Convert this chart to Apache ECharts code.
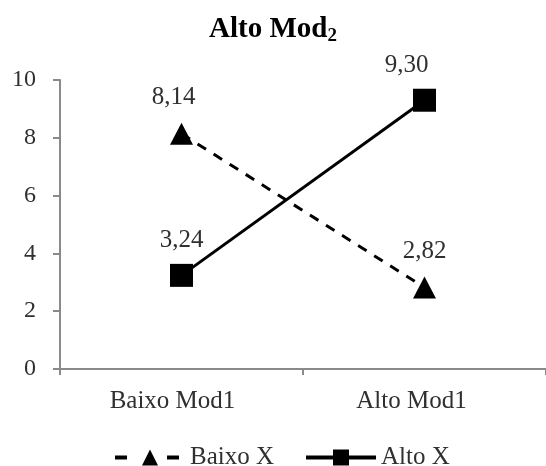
<!DOCTYPE html>
<html>
<head>
<meta charset="utf-8">
<script src="https://cdn.jsdelivr.net/npm/echarts@6/dist/echarts.min.js"></script>
<style>
  html, body { margin: 0; padding: 0; background: #fff; }
  #chart { width: 546px; height: 466px; }
</style>
</head>
<body>
<div id="chart"></div>
<script>
// Interaction plot: moderator 2 at its high level
const categories = ['Baixo Mod1', 'Alto Mod1'];
const seriesNames = ['Baixo X', 'Alto X'];
const baixoX = [8.14, 2.82];
const altoX = [3.24, 9.30];
const yTicks = [0, 2, 4, 6, 8, 10];

const FONT = '"Liberation Serif", "Times New Roman", serif';
const TXT = '#303030';

const fmt = v => v.toFixed(2).replace('.', ',');

// horizontal nudges for the value labels, per point
const labelNudge = {
  'Baixo X': [-8, 0],
  'Alto X': [0, -18]
};

function buildData(name, values) {
  return values.map((v, i) => ({
    value: v,
    label: { offset: [labelNudge[name][i], 0] }
  }));
}

const chart = echarts.init(document.getElementById('chart'), null, { renderer: 'canvas' });

chart.setOption({
  backgroundColor: '#ffffff',
  animation: false,
  title: {
    text: '{a|Alto Mod}{b|2}',
    left: 'center',
    top: 8,
    textStyle: {
      rich: {
        a: { fontFamily: FONT, fontWeight: 'bold', fontSize: 29, color: '#000', lineHeight: 34 },
        b: { fontFamily: FONT, fontWeight: 'bold', fontSize: 19, color: '#000', lineHeight: 34, padding: [12, 0, 0, 0] }
      }
    }
  },
  grid: { left: 60, right: -10, top: 80, bottom: 97, containLabel: false },
  xAxis: {
    type: 'category',
    data: categories,
    boundaryGap: true,
    axisLine: { show: true, lineStyle: { color: '#8a8a8a', width: 2 } },
    axisTick: { show: true, length: 6, lineStyle: { color: '#8a8a8a', width: 2 } },
    axisLabel: {
      margin: 20,
      formatter: (v, i) => '{c' + i + '|' + v + '}',
      rich: {
        c0: { fontFamily: FONT, fontSize: 25, color: TXT, padding: [0, 18, 0, 0] },
        c1: { fontFamily: FONT, fontSize: 25, color: TXT, padding: [0, 26, 0, 0] }
      }
    },
    splitLine: { show: false }
  },
  yAxis: {
    type: 'value',
    min: yTicks[0],
    max: yTicks[yTicks.length - 1],
    interval: yTicks[1] - yTicks[0],
    axisLine: { show: true, lineStyle: { color: '#8a8a8a', width: 2 } },
    axisTick: { show: true, length: 7, lineStyle: { color: '#8a8a8a', width: 2 } },
    axisLabel: { margin: 24, fontFamily: FONT, fontSize: 24, color: TXT },
    splitLine: { show: false }
  },
  legend: {
    top: 440,
    left: 108,
    itemWidth: 70,
    itemHeight: 20,
    itemGap: 30,
    textStyle: { fontFamily: FONT, fontSize: 25, color: TXT },
    data: [
      { name: seriesNames[0], lineStyle: { width: 4, type: [12, 40] } },
      { name: seriesNames[1], lineStyle: { width: 4 } }
    ]
  },
  series: [
    {
      name: seriesNames[0],
      type: 'line',
      data: buildData(seriesNames[0], baixoX),
      symbol: 'triangle',
      symbolSize: [23, 22],
      itemStyle: { color: '#000' },
      lineStyle: { color: '#000', width: 3, type: [10, 9] },
      label: {
        show: true, position: 'top', distance: 13,
        formatter: p => fmt(p.value),
        fontFamily: FONT, fontSize: 25, color: TXT
      }
    },
    {
      name: seriesNames[1],
      type: 'line',
      data: buildData(seriesNames[1], altoX),
      symbol: 'rect',
      symbolSize: 23,
      itemStyle: { color: '#000' },
      lineStyle: { color: '#000', width: 3 },
      label: {
        show: true, position: 'top', distance: 11,
        formatter: p => fmt(p.value),
        fontFamily: FONT, fontSize: 25, color: TXT
      }
    }
  ]
});
</script>
</body>
</html>
